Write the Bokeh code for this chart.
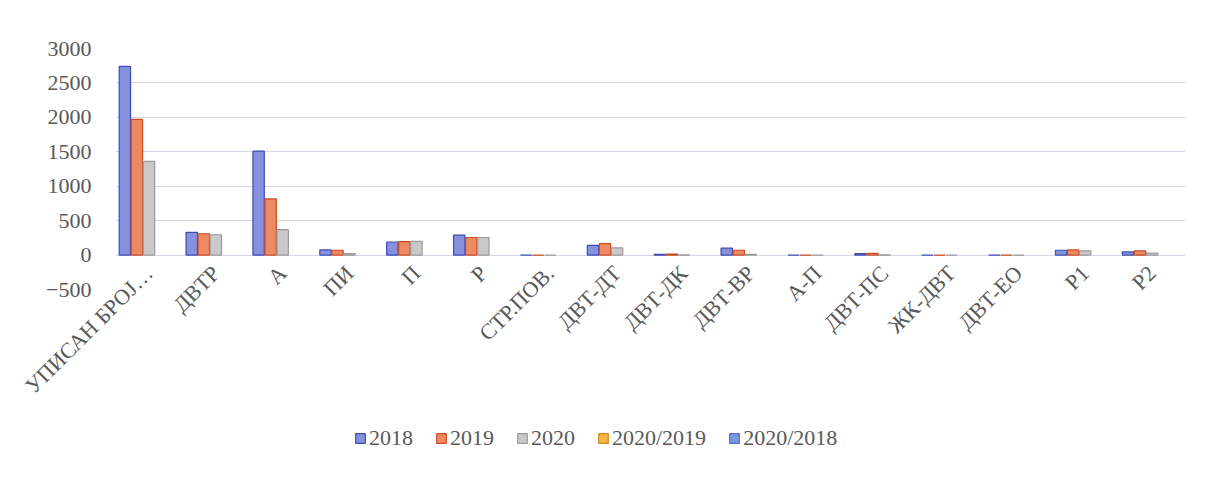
import math
from bokeh.plotting import figure
from bokeh.layouts import column
from bokeh.models import ColumnDataSource, FactorRange, Range1d, Legend, LegendItem, FixedTicker
from bokeh.transform import dodge
from bokeh.embed import file_html
from bokeh.resources import INLINE

categories = ["УПИСАН БРОЈ…", "ДВТР", "А", "ПИ", "П", "Р", "СТР.ПОВ.", "ДВТ-ДТ",
              "ДВТ-ДК", "ДВТ-ВР", "А-П", "ДВТ-ПС", "ЖК-ДВТ", "ДВТ-ЕО", "Р1", "Р2"]
y2018 = [2740, 330, 1510, 75, 190, 290, 0, 140, 10, 100, 0, 20, 0, 0, 70, 45]
y2019 = [1970, 310, 815, 70, 195, 255, 0, 165, 15, 70, 0, 25, 0, 0, 75, 60]
y2020 = [1360, 295, 370, 20, 200, 255, 0, 105, 5, 10, 0, 5, 0, 0, 60, 30]
r2020_2019 = [0.7, 0.95, 0.45, 0.3, 1.0, 1.0, 0, 0.65, 0.3, 0.15, 0, 0.2, 0, 0, 0.8, 0.5]
r2020_2018 = [0.5, 0.9, 0.25, 0.25, 1.05, 0.9, 0, 0.75, 0.5, 0.1, 0, 0.25, 0, 0, 0.85, 0.65]
series_names = ["2018", "2019", "2020", "2020/2019", "2020/2018"]
y_ticks = [-500, 0, 500, 1000, 1500, 2000, 2500, 3000]

source = ColumnDataSource(dict(cat=categories, y2018=y2018, y2019=y2019, y2020=y2020,
                               r1=r2020_2019, r2=r2020_2018))

FONT = "Liberation Serif"
TXT = "#595959"
fills = ["#8591de", "#ee8a62", "#c9c9c9", "#f2b443", "#7d98e0"]
lines = ["#3c4cb0", "#cc4a22", "#9a9a9a", "#d08a20", "#4f6fc8"]
cols = ["y2018", "y2019", "y2020", "r1", "r2"]
w = 0.17
offsets = [-0.36, -0.18, 0.0, 0.18, 0.36]

xr = FactorRange(*categories, range_padding=0)

p = figure(width=1196, height=410, x_range=xr, y_range=Range1d(-500, 3000),
           output_backend="svg", toolbar_location=None,
           min_border_left=115, min_border_right=11, min_border_top=48, min_border_bottom=120)

for i, (c, off, f, lc) in enumerate(zip(cols, offsets, fills, lines)):
    p.vbar(x=dodge("cat", off, range=xr), top=c, bottom=0, width=w, source=source,
           fill_color=f, line_color=lc if i < 3 else None, line_width=1.2)

p.yaxis.ticker = FixedTicker(ticks=y_ticks)
p.yaxis.axis_line_color = None
p.yaxis.major_tick_line_color = None
p.yaxis.minor_tick_line_color = None
p.yaxis.major_label_text_font = FONT
p.yaxis.major_label_text_font_size = "22px"
p.yaxis.major_label_text_color = TXT
p.yaxis.major_label_standoff = 18

p.xaxis.axis_line_color = None
p.xaxis.major_tick_line_color = None
p.xaxis.minor_tick_line_color = None
p.xaxis.major_label_orientation = math.pi / 4
p.xaxis.major_label_text_font = FONT
p.xaxis.major_label_text_font_size = "22px"
p.xaxis.major_label_text_color = TXT
p.xaxis.major_label_standoff = -26

p.xgrid.grid_line_color = None
p.ygrid.grid_line_color = "#d6d8e8"
p.ygrid.grid_line_width = 1.2
p.outline_line_color = None

# legend strip below the chart (same data; bars kept out of view)
lf = figure(width=1196, height=55, x_range=xr, y_range=Range1d(100000, 100001),
            output_backend="svg", toolbar_location=None,
            min_border_left=0, min_border_right=0, min_border_top=0, min_border_bottom=0)
lrend = []
for c, off, f, lc in zip(cols, offsets, fills, lines):
    lrend.append(lf.vbar(x=dodge("cat", off, range=xr), top=c, bottom=0, width=w, source=source,
                         fill_color=f, line_color=lc, line_width=1.2))
lf.axis.visible = False
lf.grid.grid_line_color = None
lf.outline_line_color = None
legend = Legend(items=[LegendItem(label=n, renderers=[r]) for n, r in zip(series_names, lrend)],
                orientation="horizontal", location=(239, 14),
                label_text_font=FONT, label_text_font_size="22px", label_text_color=TXT,
                glyph_width=12, glyph_height=12, spacing=22, label_standoff=3,
                border_line_color=None, background_fill_alpha=0, margin=0, padding=0)
lf.add_layout(legend, "center")

layout = column(p, lf, spacing=0)
open("out.html", "w").write(file_html(layout, INLINE))
